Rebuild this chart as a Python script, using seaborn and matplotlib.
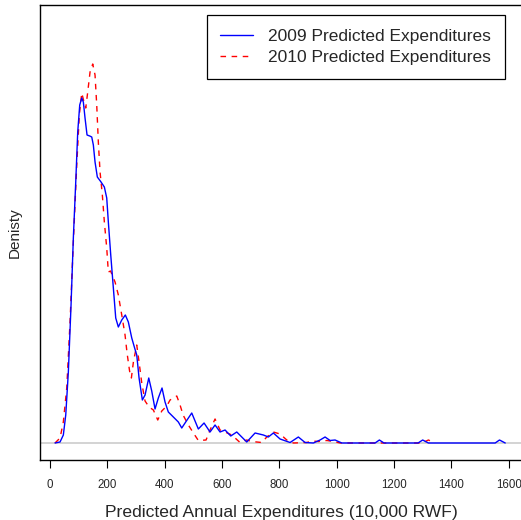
import numpy as np
import pandas as pd
import matplotlib
matplotlib.use("Agg")
import matplotlib.pyplot as plt
import seaborn as sns

# Density curves (x in 10,000 RWF, density)
x_2009 = [17.4, 34.9, 46.4, 54.8, 63.9, 73.3, 81.3, 89.7, 96.6, 103.6, 110.6, 116.2, 122.1,
          129.1, 138.5, 145.5, 151.1, 157.0, 165.0, 177.9, 189.5, 197.8, 203.4, 211.8, 220.9,
          229.2, 238.3, 250.2, 262.7, 273.2, 285.1, 294.1, 302.5, 310.6, 322.1, 331.5, 344.4,
          354.8, 366.3, 377.8, 390.7, 401.2, 412.7, 430.2, 447.6, 459.5, 471.0, 494.4, 517.4,
          537.3, 558.2, 575.7, 593.1, 610.6, 630.5, 651.4, 686.3, 715.3, 744.2, 761.7, 779.1,
          802.5, 837.4, 866.3, 889.7, 918.7, 942.1, 959.5, 977.0, 994.4, 1017.7, 1134, 1149,
          1165, 1284, 1300, 1320, 1553, 1568, 1588]
d_2009 = [0, 1, 8, 28, 71, 138, 205, 261, 311, 338, 345, 341, 325,
          308, 307, 306, 298, 281, 266, 261, 256, 245, 221, 188, 155,
          125, 116, 123, 128, 121, 105, 96, 88, 65, 43, 48, 65,
          52, 34, 45, 55, 41, 31, 26, 21, 15, 20, 30, 14,
          20, 11, 18, 11, 13, 7, 11, 1, 10, 8, 6, 10,
          4, 0.5, 6, 0.5, 0, 3, 6, 2.5, 3, 0, 0, 3,
          0, 0, 3, 0, 0, 3, 0]
x_2010 = [17.4, 34.9, 46.4, 58.3, 69.8, 81.3, 93.2, 102.2, 110.6, 118.6, 124.6, 131.5, 139.6,
          149.0, 157.0, 162.9, 168.5, 174.5, 182.5, 189.5, 197.8, 203.4, 211.1, 219.8, 226.8,
          238.3, 250.2, 261.7, 268.7, 277.5, 283.8, 290.8, 302.5, 310.6, 320.0, 331.5, 345.5,
          360.5, 375.8, 389.8, 407.3, 418.7, 442.1, 453.6, 464.1, 482.6, 500.1, 517.4, 544.3,
          558.2, 575.7, 593.1, 610.6, 634.0, 662.9, 686.3, 703.8, 738.6, 756.1, 779.1, 802.5,
          825.9, 849.2, 895.9, 913.4, 936.4, 965.7, 988.7, 1012, 1298, 1320, 1343]
d_2010 = [0, 5, 21, 55, 121, 201, 278, 328, 350, 341, 335, 351, 371,
          379, 368, 338, 301, 271, 248, 221, 195, 171, 172, 166, 161,
          148, 128, 108, 90, 72, 65, 81, 98, 81, 60, 42, 36,
          33, 23, 32, 37, 43, 47, 38, 28, 18, 10, 2.5, 3,
          13, 24, 13, 11, 8, 0.5, 3, 1.5, 0.5, 6, 11, 9,
          3, 0, 0.5, 2, 1.5, 2.5, 1.5, 0, 0, 3, 0]
series_labels = ["2009 Predicted Expenditures", "2010 Predicted Expenditures"]
x_ticks = [0, 200, 400, 600, 800, 1000, 1200, 1400, 1600]

df09 = pd.DataFrame({"x": x_2009, "d": np.array(d_2009) * 1e-5})
df10 = pd.DataFrame({"x": x_2010, "d": np.array(d_2010) * 1e-5})

sns.set_style("white")
plt.rcParams['font.family'] = ['Liberation Sans', 'DejaVu Sans']

W, H = 521, 520
fig = plt.figure(figsize=(W / 100, H / 100), dpi=100)
ax = fig.add_axes([40 / W, 60 / H, 483 / W, 455 / H])

ax.axhline(0, color="#d3d3d3", lw=1.4, zorder=1)
sns.lineplot(data=df09, x="x", y="d", ax=ax, color="blue", lw=1.0, estimator=None,
             sort=False, label=series_labels[0], zorder=3)
sns.lineplot(data=df10, x="x", y="d", ax=ax, color="red", lw=1.0, estimator=None,
             sort=False, label=series_labels[1], zorder=2, linestyle=(0, (4, 4)))

ax.set_xlim(-35, 1650)
ax.set_ylim(-0.00017, 0.00438)
ax.set_xticks(x_ticks)
ax.set_xticklabels([str(t) for t in x_ticks], fontsize=8.3)
ax.set_yticks([])
ax.tick_params(axis="x", direction="out", length=6, width=0.8, color="black", pad=8,
               bottom=True)
for s in ax.spines.values():
    s.set_color("black")
    s.set_linewidth(1.0)
ax.set_xlabel("Predicted Annual Expenditures (10,000 RWF)", fontsize=12.6, labelpad=10)
ax.set_ylabel("Denisty", fontsize=11, labelpad=13)

leg = ax.legend(loc="upper right", bbox_to_anchor=(505 / W, 1 - 15 / H),
                bbox_transform=fig.transFigure, borderaxespad=0, fancybox=False,
                edgecolor="black", framealpha=1, fontsize=12.5, handlelength=1.9,
                handletextpad=0.85, borderpad=0.8, labelspacing=0.32)
leg.get_frame().set_linewidth(0.9)

fig.savefig("out.png", dpi=100)
